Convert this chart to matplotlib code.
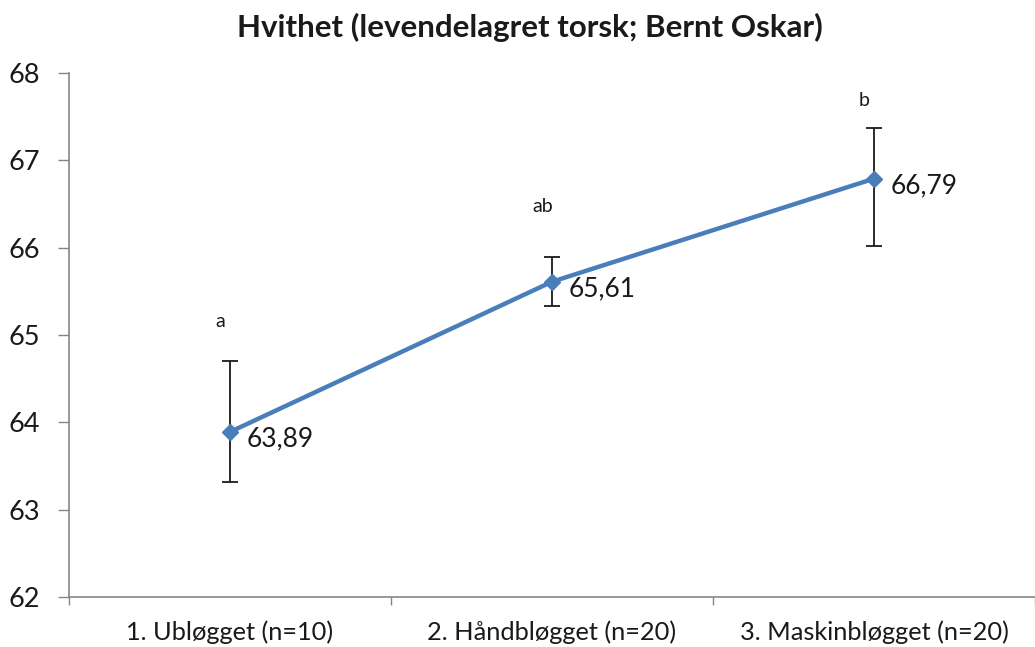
import matplotlib
matplotlib.use("Agg")
import matplotlib.pyplot as plt
import numpy as np

categories = ["1. Ubløgget (n=10)", "2. Håndbløgget (n=20)", "3. Maskinbløgget (n=20)"]
means = [63.89, 65.61, 66.79]
err_upper = [64.70, 65.89, 67.37]
err_lower = [63.32, 65.33, 66.02]
letters = ["a", "ab", "b"]
letter_y = [65.15, 66.47, 67.69]
value_labels = ["63,89", "65,61", "66,79"]
yticks = [62, 63, 64, 65, 66, 67, 68]

plt.rcParams['font.family'] = ['Lato', 'DejaVu Sans']

fig = plt.figure(figsize=(10.35, 6.47), dpi=100)
ax = fig.add_axes([69/1035, 1 - 597/647, (1035 - 69)/1035, (597 - 73)/647])

x = np.arange(len(categories))
m = np.array(means)
yerr = np.array([m - np.array(err_lower), np.array(err_upper) - m])

ax.errorbar(x, m, yerr=yerr, fmt='none', ecolor='#1a1a1a', elinewidth=1.3,
            capsize=6, capthick=1.3, zorder=2)
ax.plot(x, m, color='#4A7EBB', lw=3.2, marker='D', markersize=8,
        markerfacecolor='#4A7EBB', markeredgecolor='#4A7EBB', zorder=3)

for xi, yi, lab in zip(x, m, value_labels):
    ax.annotate(lab, (xi, yi), xytext=(12, -5), textcoords='offset points',
                ha='left', va='center', fontsize=19, color='#1a1a1a')
for xi, yl, lab in zip(x, letter_y, letters):
    ax.text(xi - 0.03, yl, lab, ha='center', va='center', fontsize=14, color='#1a1a1a')

ax.set_xlim(-0.5, 2.5)
ax.set_ylim(62, 68)
ax.set_yticks(yticks)
ax.set_yticklabels([str(t) for t in yticks], fontsize=19.5)
ax.set_xticks(x)
ax.set_xticklabels(categories, fontsize=18.3)
ax.set_xticks([-0.5, 0.5, 1.5, 2.5], minor=True)
ax.tick_params(axis='x', which='major', length=0, pad=17, colors='#1a1a1a')
ax.tick_params(axis='x', which='minor', length=6, color='#868686', width=1)
ax.tick_params(axis='y', length=8, color='#868686', width=1, pad=13, colors='#1a1a1a')
ax.tick_params(axis='y', which='both', color='#868686')

for s in ['top', 'right']:
    ax.spines[s].set_visible(False)
for s in ['left', 'bottom']:
    ax.spines[s].set_color('#868686')
    ax.spines[s].set_linewidth(1.2)

fig.text(530/1035, 1 - 27/647, "Hvithet (levendelagret torsk; Bernt Oskar)", ha='center', va='center',
         fontsize=22.5, fontweight='bold', color='#1a1a1a')

fig.savefig("out.png", dpi=100)
